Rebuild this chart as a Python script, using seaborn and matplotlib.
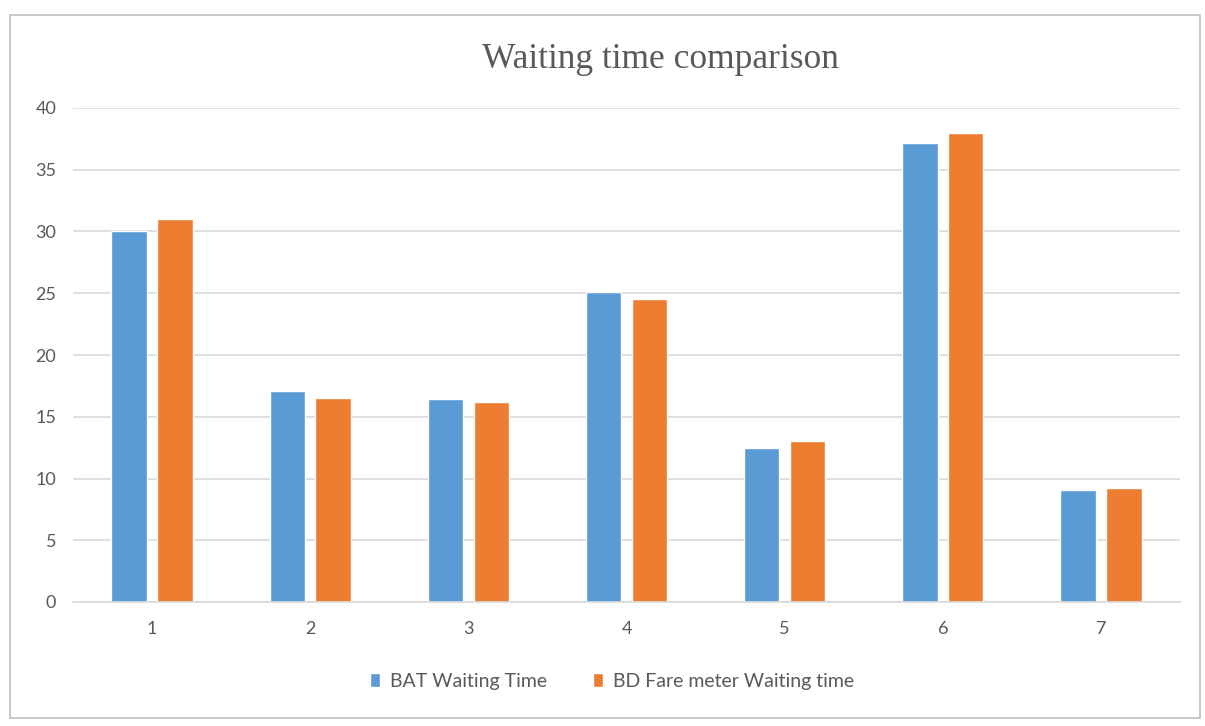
import matplotlib
matplotlib.use("Agg")
import matplotlib.pyplot as plt
import seaborn as sns
import pandas as pd
from matplotlib.patches import Rectangle

categories = ["1", "2", "3", "4", "5", "6", "7"]
bat_waiting = [30.0, 17.1, 16.4, 25.1, 12.5, 37.2, 9.1]
bd_fare_waiting = [31.0, 16.5, 16.2, 24.5, 13.0, 38.0, 9.25]
series_names = ["BAT Waiting Time", "BD Fare meter Waiting time"]
yticks = [0, 5, 10, 15, 20, 25, 30, 35, 40]

df = pd.DataFrame({
    "cat": categories * 2,
    "value": bat_waiting + bd_fare_waiting,
    "series": [series_names[0]] * len(categories) + [series_names[1]] * len(categories),
})

sns.set_theme(style="white")
plt.rcParams["font.family"] = ["Lato", "DejaVu Sans"]

fig = plt.figure(figsize=(12.05, 7.26), dpi=100)
ax = fig.add_axes([73 / 1205, 1 - 602 / 726, (1180 - 73) / 1205, (602 - 108) / 726])

sns.barplot(data=df, x="cat", y="value", hue="series", order=categories,
            hue_order=series_names, palette=["#5B9BD5", "#ED7D31"],
            width=0.58, gap=0.23, ax=ax, legend=True, saturation=1)

ax.set_ylim(0, 40)
ax.set_xlim(-0.5, len(categories) - 0.5)
ax.set_yticks(yticks)
ax.set_yticklabels([str(t) for t in yticks])
ax.yaxis.grid(True, color="#D9D9D9", linewidth=1.2)
ax.set_axisbelow(True)
for s in ["top", "right", "left"]:
    ax.spines[s].set_visible(False)
ax.spines["bottom"].set_color("#D9D9D9")
ax.spines["bottom"].set_linewidth(1.2)
ax.tick_params(axis="both", length=0, labelsize=13, colors="#595959")
ax.tick_params(axis="x", pad=14)
ax.tick_params(axis="y", pad=12)
ax.set_xlabel("")
ax.set_ylabel("")

leg = ax.legend(loc="center", bbox_to_anchor=(612 / 1205, 1 - 681 / 726),
                bbox_transform=fig.transFigure, ncol=2, frameon=False,
                fontsize=14, handlelength=0.5, handleheight=0.7,
                handletextpad=0.5, columnspacing=2.4)
for t in leg.get_texts():
    t.set_color("#595959")

fig.text(660 / 1205, 1 - 60 / 726, "Waiting time comparison", ha="center", va="center",
         fontsize=25.5, color="#595959", family=["Liberation Serif", "DejaVu Serif"])

fig.patches.append(Rectangle((10 / 1205, 1 - 718 / 726), 1190 / 1205, (718 - 15) / 726,
                             transform=fig.transFigure, fill=False,
                             edgecolor="#BFBFBF", linewidth=1.2))

fig.savefig("out.png", dpi=100, facecolor="white")
